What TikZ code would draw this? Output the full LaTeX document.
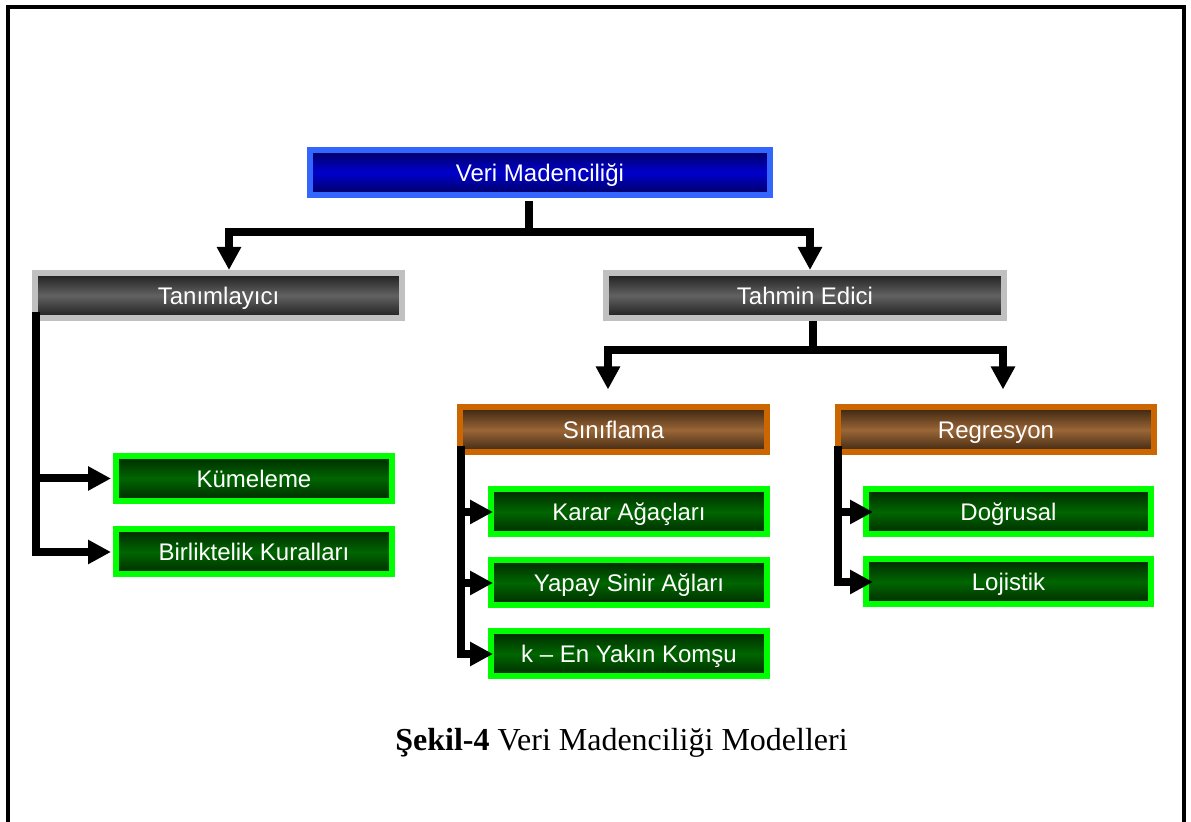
\documentclass[tikz,border=0pt]{standalone}
\usepackage{fontspec}
\setmainfont{Liberation Serif}
\newfontfamily\kutufont{Liberation Sans}
\usetikzlibrary{arrows.meta}

% renkler
\definecolor{maviKenar}{HTML}{3366FF}
\definecolor{maviAcik}{HTML}{0000CC}
\definecolor{maviKoyu}{HTML}{000060}
\definecolor{griKenar}{HTML}{C0C0C0}
\definecolor{griAcik}{HTML}{626262}
\definecolor{griKoyu}{HTML}{1C1C1C}
\definecolor{turuncuKenar}{HTML}{CC6600}
\definecolor{kahveAcik}{HTML}{9A6636}
\definecolor{kahveKoyu}{HTML}{3A2410}
\definecolor{yesilKenar}{HTML}{00FF00}
\definecolor{yesilAcik}{HTML}{006600}
\definecolor{yesilKoyu}{HTML}{002800}

\begin{document}
\begin{tikzpicture}[x=0.5pt,y=-0.5pt,
    kutu/.style={draw, line width=3pt, minimum height=22.5pt, inner sep=0pt,
        text=white, font=\kutufont\fontsize{12}{14}\selectfont,
        text height=10pt, text depth=1.4pt},
    ana/.style={kutu, draw=maviKenar, top color=maviKoyu, bottom color=maviKoyu, middle color=maviAcik},
    tur/.style={kutu, draw=griKenar, top color=griKoyu, bottom color=griKoyu, middle color=griAcik},
    grup/.style={kutu, draw=turuncuKenar, top color=kahveKoyu, bottom color=kahveKoyu, middle color=kahveAcik},
    yontem/.style={kutu, draw=yesilKenar, top color=yesilKoyu, bottom color=yesilKoyu, middle color=yesilAcik, minimum width=138pt},
    cizgi/.style={line width=4pt},
    ok/.style={line width=4pt, -{Triangle[width=11.5pt,length=11.5pt]}}]

    \useasboundingbox (0,0) rectangle (1191,822);
    \clip (0,0) rectangle (1191,822);

    % cerceve
    \draw[line width=2pt] (8,7) rectangle (1184,840);

    % kutular
    \node[ana, minimum width=230pt] (vm) at (540,172.5) {Veri Madenciliği};

    \node[tur, minimum width=183.5pt] (tan) at (218.5,295.5) {Tanımlayıcı};
    \node[tur, minimum width=199pt] (tah) at (805,295.5) {Tahmin Edici};

    \node[grup, minimum width=153.5pt] (sin) at (613.5,430) {Sınıflama};
    \node[grup, minimum width=158pt] (reg) at (996,430) {Regresyon};

    \node[yontem] (kum) at (254,478.5) {Kümeleme};
    \node[yontem] (bir) at (254,552) {Birliktelik Kuralları};

    \node[yontem] (kar) at (629,512) {Karar Ağaçları};
    \node[yontem] (yap) at (629,583) {Yapay Sinir Ağları};
    \node[yontem] (kom) at (629,654) {k – En Yakın Komşu};

    \node[yontem, minimum width=142.5pt] (dog) at (1008.5,512) {Doğrusal};
    \node[yontem, minimum width=142.5pt] (loj) at (1008.5,582) {Lojistik};

    % baglantilar
    \coordinate (vmj) at (529,232);
    \draw[cizgi] ([yshift=-1.5pt]vm.south -| vmj) -- (vmj);
    \draw[ok] (vmj) -| ([xshift=5.25pt]tan.north);
    \draw[ok] (vmj) -| ([xshift=2.5pt]tah.north);

    \coordinate (tahj) at (813,350);
    \draw[cizgi] (tah.south -| tahj) -- (tahj);
    \draw[ok, shorten >=7.5pt] (tahj) -| ([xshift=-2.75pt]sin.north);
    \draw[ok, shorten >=7.5pt] (tahj) -| ([xshift=3.5pt]reg.north);

    \coordinate (tanb) at ([xshift=2pt,yshift=4.5pt]tan.south west);
    \draw[ok, shorten >=1pt] (tanb) |- (kum.west);
    \draw[ok, shorten >=1pt] (tanb) |- (bir.west);

    \coordinate (sinb) at ([xshift=2pt,yshift=4.5pt]sin.south west);
    \draw[ok, shorten >=-2.5pt] (sinb) |- (kar.west);
    \draw[ok, shorten >=-2.5pt] (sinb) |- (yap.west);
    \draw[ok, shorten >=-2.5pt] (sinb) |- (kom.west);

    \coordinate (regb) at ([xshift=1.5pt,yshift=4.5pt]reg.south west);
    \draw[ok, shorten >=-5pt] (regb) |- (dog.west);
    \draw[ok, shorten >=-5pt] (regb) |- (loj.west);

    % sekil yazisi
    \node[anchor=base, font=\fontsize{16}{19}\selectfont] (baslik) at (621.5,751)
        {\textbf{Şekil-4} Veri Madenciliği Modelleri};

\end{tikzpicture}
\end{document}
